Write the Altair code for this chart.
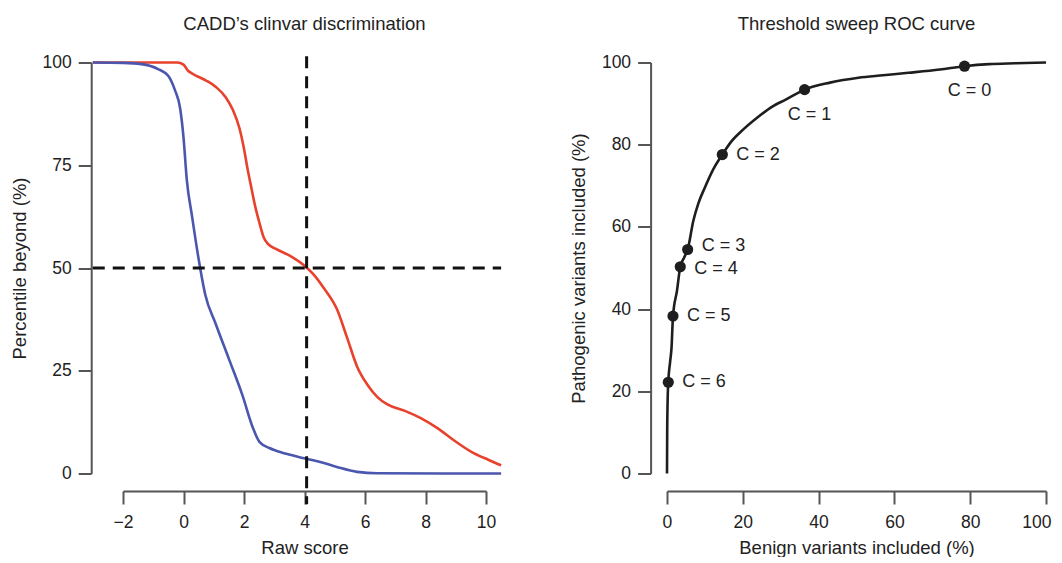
import altair as alt
import pandas as pd

# ---------------- Left panel: CADD's clinvar discrimination ----------------
score_red = [-3.0, -1.0, -0.2, 0.0, 0.15, 0.31, 0.75, 1.08, 1.4, 1.63, 1.85, 2.0, 2.12,
             2.23, 2.37, 2.51, 2.65, 2.8, 3.07, 3.51, 3.99, 4.29, 4.63, 5.07, 5.41, 5.74,
             6.08, 6.41, 6.74, 7.3, 7.86, 8.42, 8.97, 9.53, 10.09, 10.5]
pct_red = [100, 100, 100, 99.5, 98, 97.2, 95.6, 94, 91.5, 88.5, 84, 79, 74,
           70, 65, 61, 57.5, 55.8, 54.6, 53, 50.6, 48.5, 45.2, 40, 33, 26,
           21.6, 18.6, 16.8, 15.3, 13.4, 10.9, 7.9, 5.2, 3.3, 2.0]

score_blue = [-3.0, -2.0, -1.39, -0.84, -0.5, -0.28, -0.11, 0.0, 0.11, 0.28, 0.5, 0.72,
              1.06, 1.51, 1.95, 2.29, 2.51, 2.84, 3.4, 3.99, 4.52, 5.07, 5.74, 6.4, 10.5]
pct_blue = [100, 99.9, 99.6, 98.4, 96.7, 93.2, 88.8, 81.8, 71.4, 62.7, 52.2, 43.5,
            36.5, 27.7, 19, 11.2, 7.7, 6.2, 4.8, 3.7, 2.8, 1.6, 0.4, 0.05, 0]

left_xticks = [-2, 0, 2, 4, 6, 8, 10]
left_yticks = [0, 25, 50, 75, 100]
threshold_score = 4.07
threshold_pct = 50
score_extent = [-3.0, 10.5]
vline_extent = [101.5, -7.5]

# ---------------- Right panel: Threshold sweep ROC curve ----------------
roc_benign = [0, 0.05, 0.15, 0.34, 0.8, 1.2, 1.58, 2.64, 3.5, 4.5, 5.45, 6.95, 8.3,
              10.0, 12.2, 14.6, 17.0, 20.0, 24.1, 28.0, 31.2, 36.3, 43.0, 50.5, 57.0,
              63.7, 72.0, 78.5, 85.0, 92.0, 100.0]
roc_path = [0, 10, 17, 22.2, 27, 30.7, 38.3, 44.5, 50.3, 52.5, 54.5, 61.5, 65.8,
            69.6, 74, 77.6, 80.8, 83.6, 86.8, 89.4, 90.9, 93.4, 95.1, 96.3, 96.9,
            97.5, 98.3, 99.1, 99.6, 99.8, 100]

c_labels = ["C = 0", "C = 1", "C = 2", "C = 3", "C = 4", "C = 5", "C = 6"]
c_benign = [78.5, 36.3, 14.6, 5.45, 3.5, 1.58, 0.34]
c_path = [99.1, 93.4, 77.6, 54.5, 50.3, 38.3, 22.2]
labels_below = ["C = 0", "C = 1"]

right_ticks = [0, 20, 40, 60, 80, 100]

FONT = "Liberation Sans"
RED = "#E8412C"
BLUE = "#4B56AE"
DARK = "#1e1e1e"

# ---------------- Build left chart ----------------
df_left = pd.DataFrame({
    "score": score_red + score_blue,
    "pct": pct_red + pct_blue,
    "set": ["Pathogenic"] * len(score_red) + ["Benign"] * len(score_blue),
    "order": list(range(len(score_red))) + list(range(len(score_blue))),
})

xs_left = alt.Scale(domain=[-2, 10], nice=False, zero=False)
ys_left = alt.Scale(domain=[0, 100], nice=False, zero=False)

x_left = alt.X("score:Q", scale=xs_left,
               axis=alt.Axis(values=left_xticks, title="Raw score", offset=17.5))
y_left = alt.Y("pct:Q", scale=ys_left,
               axis=alt.Axis(values=left_yticks, title="Percentile beyond (%)", offset=31.8))

curves = alt.Chart(df_left).mark_line(strokeWidth=2.6, clip=False, interpolate="monotone").encode(
    x=x_left, y=y_left,
    color=alt.Color("set:N", scale=alt.Scale(domain=["Pathogenic", "Benign"], range=[RED, BLUE]),
                    legend=None),
    order="order:Q",
)

hdf = pd.DataFrame({"x": [score_extent[0]], "x2": [score_extent[1]], "y": [threshold_pct]})
hline = alt.Chart(hdf).mark_rule(strokeDash=[12, 8], strokeWidth=3, color="#111", clip=False).encode(
    x=alt.X("x:Q", scale=xs_left), x2="x2:Q", y=alt.Y("y:Q", scale=ys_left))

vdf = pd.DataFrame({"x": [threshold_score], "y": [vline_extent[0]], "y2": [vline_extent[1]]})
vline = alt.Chart(vdf).mark_rule(strokeDash=[12, 8], strokeWidth=3, color="#111", clip=False).encode(
    x=alt.X("x:Q", scale=xs_left), y=alt.Y("y:Q", scale=ys_left), y2="y2:Q")

left = alt.layer(curves, hline, vline).properties(
    width=363, height=411,
    title=alt.Title("CADD\u2019s clinvar discrimination"),
)

# ---------------- Build right chart ----------------
df_roc = pd.DataFrame({"benign": roc_benign, "path": roc_path, "order": list(range(len(roc_benign)))})
df_c = pd.DataFrame({"benign": c_benign, "path": c_path, "label": c_labels})

xs_r = alt.Scale(domain=[0, 100], nice=False, zero=False)
ys_r = alt.Scale(domain=[0, 100], nice=False, zero=False)
x_r = alt.X("benign:Q", scale=xs_r,
            axis=alt.Axis(values=right_ticks, title="Benign variants included (%)", offset=17.5,
                          labelFlush=True, labelFlushOffset=5))
y_r = alt.Y("path:Q", scale=ys_r,
            axis=alt.Axis(values=right_ticks, title="Pathogenic variants included (%)", offset=16.4))

roc_line = alt.Chart(df_roc).mark_line(color=DARK, strokeWidth=2.6, interpolate="monotone").encode(
    x=x_r, y=y_r, order="order:Q")
pts = alt.Chart(df_c).mark_circle(size=125, color=DARK, opacity=1).encode(x=x_r, y=y_r)

# label placement: two beneath their point, the rest to the right (small vertical nudges)
nudge = {"C = 3": -4, "C = 4": 2}
label_layers = []
for lbl in c_labels:
    sub = df_c[df_c["label"] == lbl]
    if lbl in labels_below:
        mk = alt.Chart(sub).mark_text(align="center", baseline="middle", dx=5, dy=25, font=FONT,
                                      fontSize=18, color="#222")
    else:
        mk = alt.Chart(sub).mark_text(align="left", baseline="middle", dx=14, dy=nudge.get(lbl, 0),
                                      font=FONT, fontSize=18, color="#222")
    label_layers.append(mk.encode(x=x_r, y=y_r, text="label:N"))

right = alt.layer(roc_line, pts, *label_layers).properties(
    width=379, height=411,
    title=alt.Title("Threshold sweep ROC curve"),
)

chart = alt.hconcat(left, right, spacing=62).properties(
    padding={"left": 2, "top": 6.5, "right": 0, "bottom": -1}
).configure_view(stroke=None).configure_axis(
    grid=False,
    domainColor="#555", domainWidth=2,
    tickColor="#555", tickWidth=2, tickSize=13,
    labelFont=FONT, labelFontSize=17.5, labelColor="#222",
    labelFlush=False, labelOverlap=False,
    titleFont=FONT, titleFontSize=18.5, titleFontWeight="normal", titleColor="#222",
).configure_axisX(labelPadding=9, titlePadding=8).configure_axisY(
    labelPadding=7, titlePadding=12.5
).configure_title(
    font=FONT, fontSize=18.5, fontWeight="normal", color="#222", anchor="middle", offset=20
)

chart.save("out.html", embed_options={"renderer": "svg", "actions": False})
